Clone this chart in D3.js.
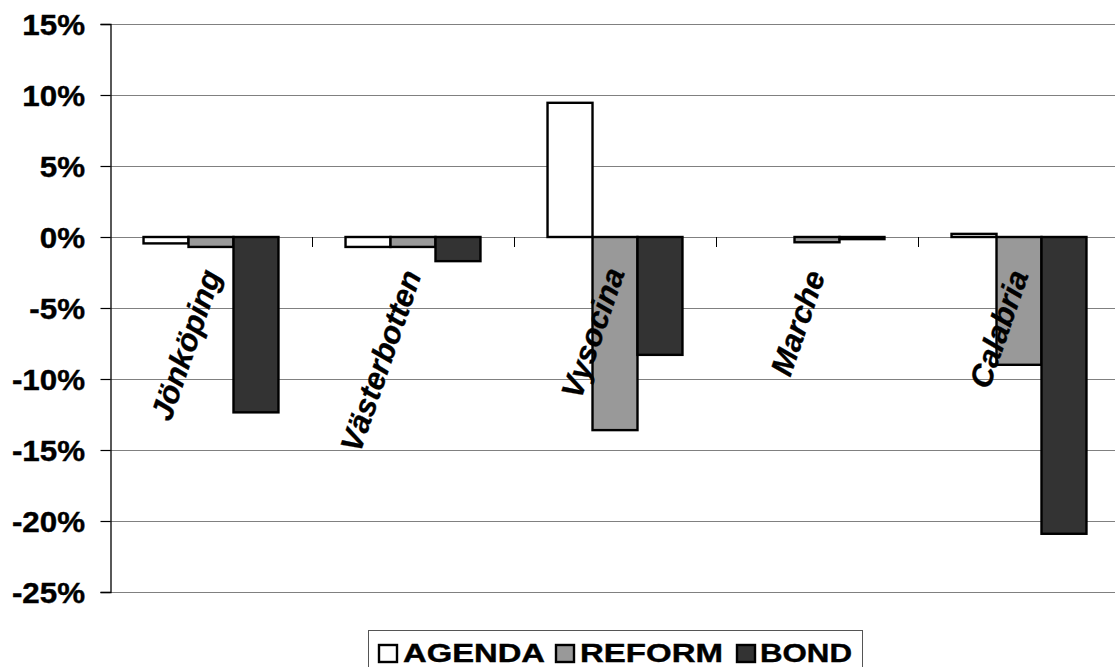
<!DOCTYPE html>
<html>
<head>
<meta charset="utf-8">
<script src="https://cdn.jsdelivr.net/npm/d3@7"></script>
<style>
  html, body { margin: 0; padding: 0; background: #ffffff; }
  svg { display: block; }
  text { font-family: "Liberation Sans", Arial, sans-serif; font-weight: bold; fill: #000; }
</style>
</head>
<body>
<script>
// ---- data ----
const categories = ["Jönköping", "Västerbotten", "Vysocina", "Marche", "Calabria"];
const seriesNames = ["AGENDA", "REFORM", "BOND"];
const agenda = [-0.45, -0.7, 9.45, 0, 0.22];
const reform = [-0.7, -0.7, -13.6, -0.37, -9.0];
const bond = [-12.35, -1.7, -8.3, -0.15, -20.9];
const yTicks = [-25, -20, -15, -10, -5, 0, 5, 10, 15];
const seriesColors = ["#ffffff", "#999999", "#333333"];

const seriesValues = [agenda, reform, bond];
const W = 1115, H = 667;

const svg = d3.select("body").append("svg").attr("width", W).attr("height", H);

const y = d3.scaleLinear().domain([-25, 15]).range([592, 24]);
const x0 = d3.scaleBand().domain(categories).range([110, 1120]).padding(0);
const bw = x0.bandwidth();
const x1 = d3.scaleBand().domain(seriesNames).range([bw * 0.166, bw * 0.834]).padding(0);

// gridlines
svg.append("g").selectAll("line").data(yTicks).join("line")
  .attr("x1", 110).attr("x2", W)
  .attr("y1", d => Math.round(y(d)) + 0.5).attr("y2", d => Math.round(y(d)) + 0.5)
  .attr("stroke", "#808080").attr("stroke-width", 1.2);

// y axis
const yAxis = d3.axisLeft(y).tickValues(yTicks).tickSize(10).tickFormat(d => "");
const gy = svg.append("g").attr("transform", "translate(110.5,0)").call(yAxis);
gy.select(".domain").attr("stroke", "#000").attr("stroke-width", 1.3);
gy.selectAll(".tick line").attr("stroke", "#000").attr("stroke-width", 1.2);

// y tick labels (stretched horizontally like the original)
svg.append("g").selectAll("text").data(yTicks).join("text")
  .attr("transform", d => `translate(85,${y(d) + 10.5}) scale(1.08,1)`)
  .attr("text-anchor", "end")
  .attr("font-size", 29)
  .attr("stroke", "#000").attr("stroke-width", 0.4)
  .text(d => d + "%");

// category ticks below zero line
svg.append("g").selectAll("line").data(categories.slice(1)).join("line")
  .attr("x1", d => x0(d) + 0.5).attr("x2", d => x0(d) + 0.5)
  .attr("y1", y(0)).attr("y2", y(0) + 10)
  .attr("stroke", "#000").attr("stroke-width", 1);

// bars
const groups = svg.append("g").selectAll("g").data(categories).join("g")
  .attr("transform", d => `translate(${x0(d)},0)`);
groups.selectAll("rect")
  .data((c, i) => seriesNames.map((s, j) => ({ s, j, v: seriesValues[j][i] })))
  .join("rect")
  .attr("x", d => x1(d.s))
  .attr("width", x1.bandwidth())
  .attr("y", d => Math.min(y(d.v), y(0)))
  .attr("height", d => Math.abs(y(d.v) - y(0)))
  .attr("fill", d => seriesColors[d.j])
  .attr("stroke", "#000")
  .attr("stroke-width", 2.4);

// rotated category labels (centres)
const labelCenters = [[186, 345], [381, 361], [593, 333], [798, 323], [999, 329]];
svg.append("g").selectAll("text").data(categories).join("text")
  .attr("transform", (d, i) => `translate(${labelCenters[i][0]},${labelCenters[i][1]}) rotate(-71)`)
  .attr("text-anchor", "middle")
  .attr("dominant-baseline", "central")
  .attr("font-size", 31)
  .attr("font-style", "italic")
  .attr("stroke", "#000").attr("stroke-width", 0.3)
  .text(d => d);

// legend
const lg = svg.append("g");
lg.append("rect").attr("x", 368.5).attr("y", 630.5).attr("width", 494).attr("height", 60)
  .attr("fill", "#fff").attr("stroke", "#555").attr("stroke-width", 1);
const legendX = [379, 556, 737];
const legendTextX = [403, 580, 760];
const legendLen = [142, 143, 92];
seriesNames.forEach((s, j) => {
  lg.append("rect").attr("x", legendX[j]).attr("y", 645).attr("width", 18).attr("height", 17)
    .attr("fill", seriesColors[j]).attr("stroke", "#000").attr("stroke-width", 2.4);
  lg.append("text").attr("x", legendTextX[j]).attr("y", 662)
    .attr("font-size", 25.5)
    .attr("stroke", "#000").attr("stroke-width", 0.4)
    .attr("textLength", legendLen[j]).attr("lengthAdjust", "spacingAndGlyphs")
    .text(s);
});
</script>
</body>
</html>
